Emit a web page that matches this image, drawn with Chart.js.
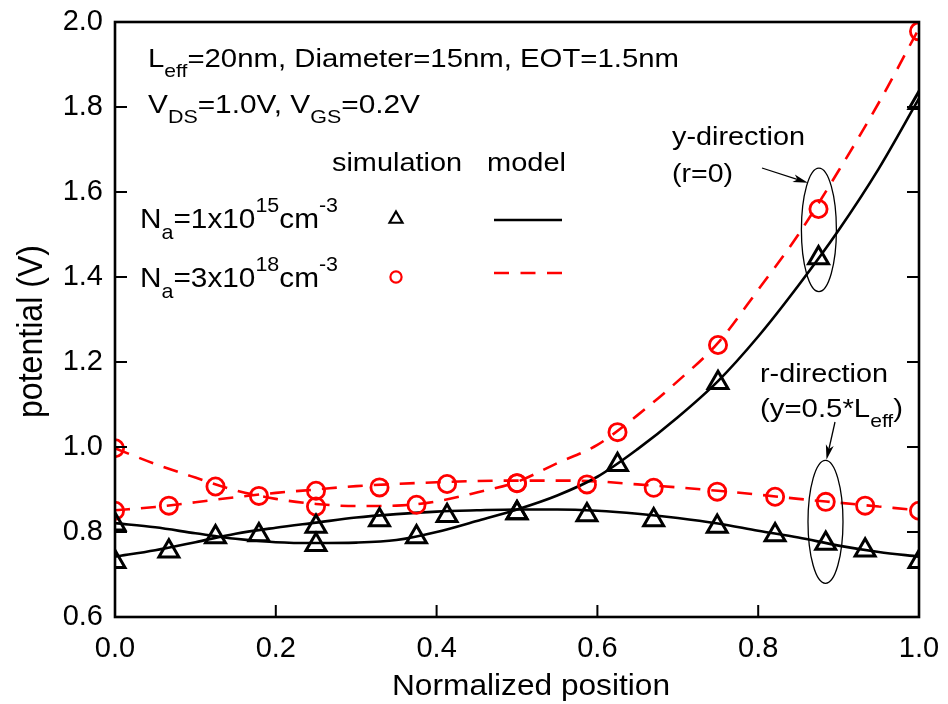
<!DOCTYPE html>
<html>
<head>
<meta charset="utf-8">
<title>potential vs normalized position</title>
<script src="https://cdn.jsdelivr.net/npm/chart.js@4.4.1/dist/chart.umd.min.js"></script>
<style>
  html, body { margin: 0; padding: 0; background: #fff; }
</style>
</head>
<body>
<canvas id="chart" width="948" height="704"></canvas>
<script>
// ===== DATA =====
// simulation, y-direction (r=0)
const yDirPos = [0, 0.125, 0.25, 0.375, 0.5, 0.625, 0.75, 0.875, 1.0];
const yDirSimLow = [0.818, 0.788, 0.770, 0.788, 0.845, 0.958, 1.151, 1.445, 1.810];   // Na=1e15
const yDirSimHigh = [0.997, 0.907, 0.860, 0.864, 0.915, 1.035, 1.240, 1.560, 1.978];  // Na=3e18

// simulation, r-direction (y=0.5*Leff)
const rDirPos = [0, 0.067, 0.179, 0.25, 0.329, 0.413, 0.5, 0.587, 0.670, 0.749, 0.821, 0.884, 0.933, 1.0];
const rDirSimLow = [0.730, 0.755, 0.793, 0.813, 0.828, 0.838, 0.845, 0.840, 0.828, 0.813, 0.793, 0.773, 0.757, 0.730];
const rDirSimHigh = [0.850, 0.862, 0.885, 0.897, 0.905, 0.913, 0.915, 0.912, 0.904, 0.895, 0.883, 0.871, 0.862, 0.850];

// model curves, every 0.05
const modelPos = [0, 0.05, 0.1, 0.15, 0.2, 0.25, 0.3, 0.35, 0.4, 0.45, 0.5,
                  0.55, 0.6, 0.65, 0.7, 0.75, 0.8, 0.85, 0.9, 0.95, 1.0];
const yDirModelLow = [0.821, 0.811, 0.797, 0.784, 0.776, 0.774, 0.775, 0.781, 0.800, 0.826, 0.853,
                      0.886, 0.930, 0.995, 1.070, 1.155, 1.260, 1.380, 1.510, 1.655, 1.820];
const yDirModelHigh = [0.997, 0.960, 0.928, 0.898, 0.878, 0.866, 0.861, 0.862, 0.872, 0.893, 0.918,
                       0.962, 1.005, 1.075, 1.155, 1.245, 1.370, 1.500, 1.650, 1.810, 1.985];
const rDirModelLow = [0.742, 0.757, 0.776, 0.796, 0.810, 0.822, 0.834, 0.842, 0.848, 0.851, 0.853,
                      0.853, 0.850, 0.843, 0.833, 0.820, 0.803, 0.787, 0.768, 0.753, 0.742];
const rDirModelHigh = [0.851, 0.859, 0.870, 0.882, 0.892, 0.900, 0.908, 0.913, 0.917, 0.920, 0.921,
                       0.921, 0.919, 0.912, 0.905, 0.897, 0.888, 0.878, 0.869, 0.860, 0.851];

const xTicks = [0, 0.2, 0.4, 0.6, 0.8, 1.0];
const yTicks = [0.6, 0.8, 1.0, 1.2, 1.4, 1.6, 1.8, 2.0];

// ===== HELPERS =====
const FONT = '"Liberation Sans", Arial, sans-serif';
const RED = '#ff0000';

function pts(xs, ys) {
    return xs.map((x, i) => ({ x: x, y: ys[i] }));
}

function richWidth(ctx, parts, size) {
    let w = 0;
    parts.forEach(p => {
        ctx.font = (p[1] ? size * 0.72 : size) + 'px ' + FONT;
        w += ctx.measureText(p[0]).width;
    });
    return w;
}

// text with sub/superscripts, stretched to a given width
function drawRich(ctx, parts, x, y, size, width) {
    const k = width ? width / richWidth(ctx, parts, size) : 1;
    ctx.save();
    ctx.translate(x, y);
    ctx.scale(k, 1);
    ctx.fillStyle = '#000';
    ctx.textAlign = 'left';
    ctx.textBaseline = 'alphabetic';
    let cx = 0;
    parts.forEach(p => {
        ctx.font = (p[1] ? size * 0.72 : size) + 'px ' + FONT;
        const dy = p[1] === 'sub' ? size * 0.4 : p[1] === 'sup' ? -size * 0.6 : 0;
        ctx.fillText(p[0], cx, dy);
        cx += ctx.measureText(p[0]).width;
    });
    ctx.restore();
}

function arrow(ctx, x1, y1, x2, y2) {
    const a = Math.atan2(y2 - y1, x2 - x1);
    const c = Math.cos(a), s = Math.sin(a);
    ctx.beginPath();
    ctx.moveTo(x1, y1);
    ctx.lineTo(x2 - 8 * c, y2 - 8 * s);
    ctx.stroke();
    ctx.beginPath();
    ctx.moveTo(x2, y2);
    ctx.lineTo(x2 - 15 * c + 4 * s, y2 - 15 * s - 4 * c);
    ctx.lineTo(x2 - 11 * c, y2 - 11 * s);
    ctx.lineTo(x2 - 15 * c - 4 * s, y2 - 15 * s + 4 * c);
    ctx.closePath();
    ctx.fill();
}

function triangle(ctx, x, y, r) {
    ctx.beginPath();
    ctx.moveTo(x, y - r);
    ctx.lineTo(x + r * Math.sqrt(3) / 2, y + r / 2);
    ctx.lineTo(x - r * Math.sqrt(3) / 2, y + r / 2);
    ctx.closePath();
    ctx.stroke();
}

// scales keep no extra padding of their own; layout.padding sets the frame
function noScalePadding(s) {
    s.paddingTop = 0;
    s.paddingBottom = 0;
    s.paddingLeft = 0;
    s.paddingRight = 0;
}

// ===== DECORATION PLUGIN =====
const decor = {
    id: 'decor',
    afterDatasetsDraw(chart) {
        const ctx = chart.ctx;
        const a = chart.chartArea;
        const xs = chart.scales.x, ys = chart.scales.y;
        ctx.save();

        // frame
        ctx.strokeStyle = '#000';
        ctx.lineWidth = 2.6;
        ctx.strokeRect(a.left, a.top, a.right - a.left, a.bottom - a.top);

        // inward ticks
        ctx.lineWidth = 2;
        ctx.beginPath();
        xTicks.slice(1, -1).forEach(v => {
            const px = xs.getPixelForValue(v);
            ctx.moveTo(px, a.bottom);
            ctx.lineTo(px, a.bottom - 12);
        });
        yTicks.slice(1, -1).forEach(v => {
            const py = ys.getPixelForValue(v);
            ctx.moveTo(a.left, py);
            ctx.lineTo(a.left + 12, py);
            ctx.moveTo(a.right, py);
            ctx.lineTo(a.right - 12, py);
        });
        ctx.stroke();

        // axis titles
        drawRich(ctx, [['Normalized position']], 392, 695, 30, 278);
        ctx.save();
        ctx.translate(42, 418);
        ctx.rotate(-Math.PI / 2);
        ctx.font = '31px ' + FONT;
        const tw = ctx.measureText('potential (V)').width;
        ctx.scale(173 / tw, 1.12);
        ctx.fillStyle = '#000';
        ctx.fillText('potential (V)', 0, 0);
        ctx.restore();

        // header text
        drawRich(ctx, [['L'], ['eff', 'sub'], ['=20nm, Diameter=15nm, EOT=1.5nm']], 148, 67, 26, 531);
        drawRich(ctx, [['V'], ['DS', 'sub'], ['=1.0V, V'], ['GS', 'sub'], ['=0.2V']], 148, 113, 26, 272);

        // legend table
        drawRich(ctx, [['simulation']], 332, 171, 26, 130);
        drawRich(ctx, [['model']], 487, 171, 26, 79);
        drawRich(ctx, [['N'], ['a', 'sub'], ['=1x10'], ['15', 'sup'], ['cm'], ['-3', 'sup']], 140, 228, 27, 198);
        drawRich(ctx, [['N'], ['a', 'sub'], ['=3x10'], ['18', 'sup'], ['cm'], ['-3', 'sup']], 140, 287, 27, 198);

        ctx.lineWidth = 2.2;
        ctx.strokeStyle = '#000';
        triangle(ctx, 396, 219, 7.5);
        ctx.strokeStyle = RED;
        ctx.beginPath();
        ctx.arc(396, 277, 5.6, 0, Math.PI * 2);
        ctx.stroke();

        ctx.lineWidth = 2.6;
        ctx.strokeStyle = '#000';
        ctx.beginPath();
        ctx.moveTo(494, 220);
        ctx.lineTo(562, 220);
        ctx.stroke();
        ctx.strokeStyle = RED;
        ctx.setLineDash([15, 11.5]);
        ctx.beginPath();
        ctx.moveTo(494, 273);
        ctx.lineTo(562, 273);
        ctx.stroke();
        ctx.setLineDash([]);

        // annotations
        drawRich(ctx, [['y-direction']], 672, 145, 26, 133);
        drawRich(ctx, [['(r=0)']], 672, 182, 26, 61);
        drawRich(ctx, [['r-direction']], 760, 382, 26, 128);
        drawRich(ctx, [['(y=0.5*L'], ['eff', 'sub'], [')']], 760, 417, 26, 143);

        ctx.strokeStyle = '#000';
        ctx.fillStyle = '#000';
        ctx.lineWidth = 1.3;
        const e1x = xs.getPixelForValue(0.8755), e1y = ys.getPixelForValue(1.511);
        const e2x = xs.getPixelForValue(0.8837), e2y = ys.getPixelForValue(0.824);
        ctx.beginPath();
        ctx.ellipse(e1x, e1y, 17.5, 61.7, 0, 0, Math.PI * 2);
        ctx.stroke();
        ctx.beginPath();
        ctx.ellipse(e2x, e2y, 17.5, 61.5, 0, 0, Math.PI * 2);
        ctx.stroke();
        arrow(ctx, 762, 168, e1x - 11, e1y - 47);
        arrow(ctx, 835, 422, e2x + 1, e2y - 62);

        ctx.restore();
    }
};

// ===== CHART =====
const modelLine = (data, color, dash) => ({
    data: data,
    showLine: true,
    borderColor: color,
    borderWidth: 2.6,
    borderDash: dash,
    pointRadius: 0,
    cubicInterpolationMode: 'monotone',
    clip: 0,
    order: 2
});

const simPoints = (data, color, style, r, bw) => ({
    data: data,
    showLine: false,
    pointStyle: style,
    pointRadius: r,
    pointBorderWidth: bw,
    pointBorderColor: color,
    pointBackgroundColor: 'rgba(0,0,0,0)',
    clip: 0,
    order: 1
});

new Chart(document.getElementById('chart'), {
    type: 'scatter',
    data: {
        datasets: [
            simPoints(pts(yDirPos, yDirSimLow), '#000', 'triangle', 11.5, 3),
            simPoints(pts(rDirPos, rDirSimLow), '#000', 'triangle', 11.5, 3),
            simPoints(pts(yDirPos, yDirSimHigh), RED, 'circle', 8.6, 2.8),
            simPoints(pts(rDirPos, rDirSimHigh), RED, 'circle', 8.6, 2.8),
            modelLine(pts(modelPos, yDirModelLow), '#000', []),
            modelLine(pts(modelPos, rDirModelLow), '#000', []),
            modelLine(pts(modelPos, yDirModelHigh), RED, [15, 11]),
            modelLine(pts(modelPos, rDirModelHigh), RED, [15, 11])
        ]
    },
    options: {
        responsive: false,
        animation: false,
        events: [],
        layout: { autoPadding: false, padding: { top: 22, right: 29, left: 0, bottom: 0 } },
        plugins: {
            legend: { display: false },
            tooltip: { enabled: false }
        },
        scales: {
            x: {
                type: 'linear',
                min: 0,
                max: 1,
                afterBuildTicks: s => { s.ticks = xTicks.map(v => ({ value: v })); },
                afterFit: s => { s.height = 87; noScalePadding(s); },
                grid: { display: false, drawTicks: false },
                border: { display: false },
                ticks: {
                    padding: 15,
                    color: '#000',
                    maxRotation: 0,
                    font: { family: FONT, size: 29 },
                    callback: v => v.toFixed(1)
                }
            },
            y: {
                type: 'linear',
                min: 0.6,
                max: 2.0,
                afterBuildTicks: s => { s.ticks = yTicks.map(v => ({ value: v })); },
                afterFit: s => { s.width = 115; noScalePadding(s); },
                grid: { display: false, drawTicks: false },
                border: { display: false },
                ticks: {
                    padding: 12,
                    color: '#000',
                    font: { family: FONT, size: 29 },
                    callback: v => v.toFixed(1)
                }
            }
        }
    },
    plugins: [decor]
});
</script>
</body>
</html>
